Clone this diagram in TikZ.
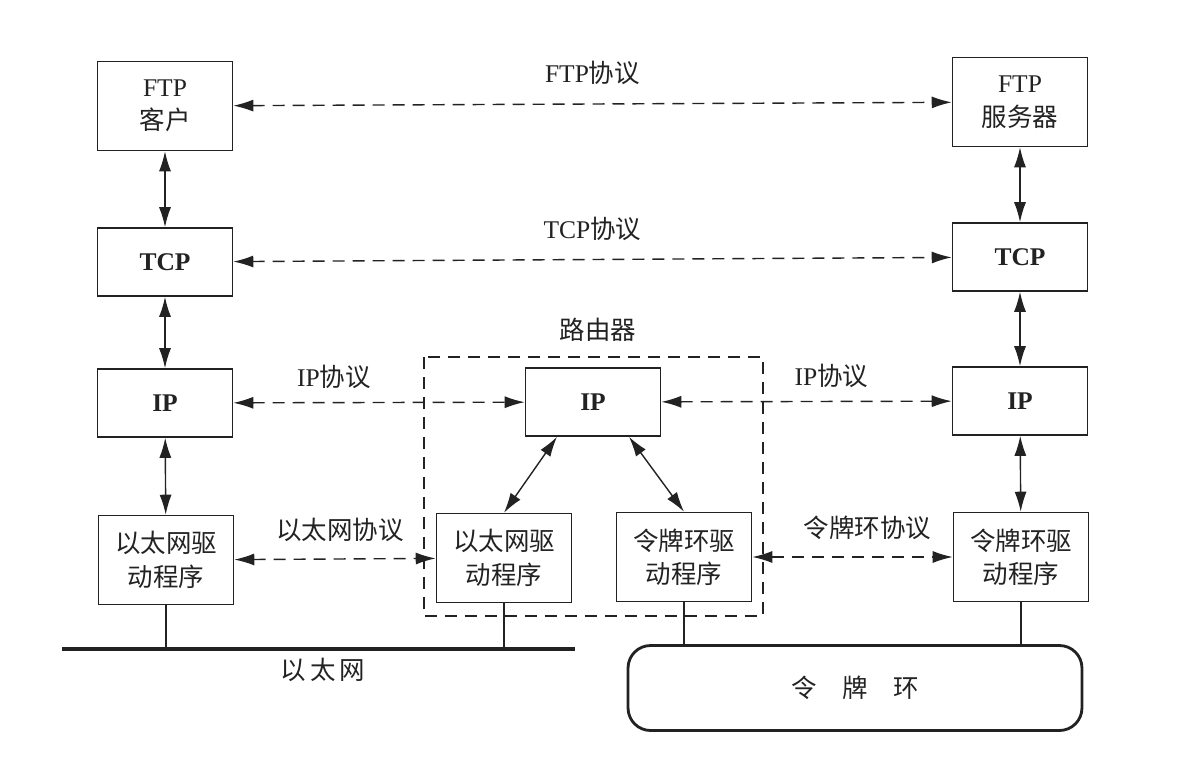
\documentclass[tikz,border=0pt]{standalone}
\usepackage{fontspec}
\setmainfont{Liberation Serif}
\newfontfamily\cjk{Noto Sans CJK SC}
\usepackage{xcolor}
\usepackage{tikz}
\usetikzlibrary{arrows.meta,positioning,calc}
\definecolor{ink}{HTML}{222222}

\begin{document}
\begin{tikzpicture}[x=0.02cm,y=-0.02cm,
          every node/.style={font=\fontsize{14.5}{19}\selectfont,text=ink},
          layerbox/.style={draw=ink,line width=0.9pt,align=center,
                           minimum width=2.7cm,minimum height=1.36cm,inner sep=2pt},
          drvbox/.style={layerbox,minimum height=1.78cm},
          arr/.style={{Latex[length=4mm,width=2.4mm]}-{Latex[length=4mm,width=2.4mm]},line width=0.8pt,draw=ink},
          proto/.style={arr,dash pattern=on 2.4mm off 1.6mm},
      ]
        \useasboundingbox (0,0) rectangle (1190,781);

        % left host
        \node[drvbox] (ftpc) at (165,106) {FTP\\\cjk 客户};
        \node[layerbox] (tcpl) at (165,262) {\textbf{TCP}};
        \node[layerbox] (ipl) at (165,403) {\textbf{IP}};
        \node[drvbox] (ethl) at (166,560) {\cjk 以太网驱\\\cjk 动程序};

        % right host
        \node[drvbox] (ftps) at (1020,102) {FTP\\\cjk 服务器};
        \node[layerbox] (tcpr) at (1020,257) {\textbf{TCP}};
        \node[layerbox] (ipr) at (1020,401) {\textbf{IP}};
        \node[drvbox] (tokr) at (1021,557) {\cjk 令牌环驱\\\cjk 动程序};

        % router
        \node[layerbox] (ipm) at (593,402) {\textbf{IP}};
        \node[drvbox] (ethm) at (504,558) {\cjk 以太网驱\\\cjk 动程序};
        \node[drvbox] (tokm) at (684,557) {\cjk 令牌环驱\\\cjk 动程序};
        \draw[draw=ink,line width=0.9pt,dash pattern=on 2.4mm off 1.6mm]
          (424,357) rectangle (763,616);
        \node (rtlabel) at (598,330) {\cjk 路由器};

        \draw[arr] (ftpc) -- (tcpl);
        \draw[arr] (tcpl) -- (ipl);
        \draw[arr] (ipl) -- (ethl);
        \draw[arr] (ftps) -- (tcpr);
        \draw[arr] (tcpr) -- (ipr);
        \draw[arr] (ipr) -- (tokr);
        \draw[arr] ([xshift=-0.72cm]ipm.south) -- (ethm.north);
        \draw[arr] ([xshift=0.72cm]ipm.south) -- (tokm.north);

        \draw[proto] (ftpc) -- (ftps) node[midway,above=7pt] {FTP\cjk 协议};
        \draw[proto] (tcpl) -- (tcpr) node[midway,above=7pt] {TCP\cjk 协议};
        \draw[proto] (ipl) -- (ipm) node[midway,above=4pt,xshift=-0.9cm] {IP\cjk 协议};
        \draw[proto] (ipm) -- (ipr) node[midway,above=4pt,xshift=0.5cm] {IP\cjk 协议};
        \draw[proto] (ethl) -- (ethm) node[midway,above=6pt,xshift=0.1cm] {\cjk 以太网协议};
        \draw[proto] (tokm) -- (tokr) node[midway,above=6pt,xshift=0.3cm] {\cjk 令牌环协议};

        % networks
        \coordinate (ethw) at (62,649);
        \coordinate (ethe) at (575,649);
        \draw[draw=ink,line width=2.2pt] (ethw) -- (ethe);
        \node (ethname) at (323,670) {\cjk 以\,太\,网};
        \node[draw=ink,line width=1.6pt,rounded corners=0.45cm,
              minimum width=9.08cm,minimum height=1.7cm] (ring) at (855,688) {\cjk 令\hspace{1em}牌\hspace{1em}环};

        \draw[draw=ink,line width=0.7pt] (ethl.south) -- (ethl.south |- ethw);
        \draw[draw=ink,line width=0.7pt] (ethm.south) -- (ethm.south |- ethw);
        \draw[draw=ink,line width=0.7pt] (tokm.south) -- (tokm.south |- ring.north);
        \draw[draw=ink,line width=0.7pt] (tokr.south) -- (tokr.south |- ring.north);
      \end{tikzpicture}
\end{document}
